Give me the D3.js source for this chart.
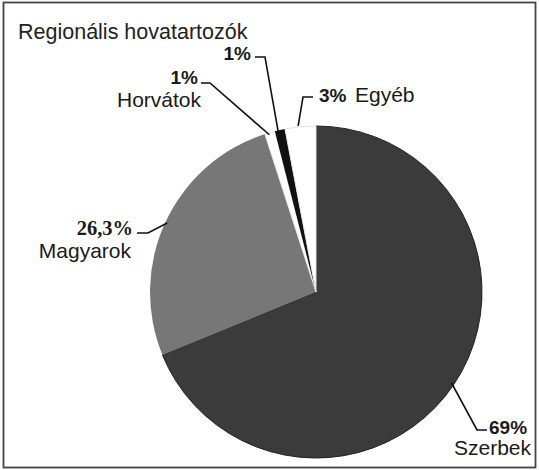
<!DOCTYPE html>
<html><head><meta charset="utf-8">
<script src="https://cdn.jsdelivr.net/npm/d3@7/dist/d3.min.js"></script>
<style>body{margin:0;background:#fff}svg{display:block}</style>
</head><body>
<svg id="c" width="539" height="470"></svg>
<script>
const title = "Regionális hovatartozók";
const categories = ["Szerbek", "Magyarok", "Horvátok", "", "Egyéb"];
const values = [69, 26.3, 1, 1, 3];
const valueLabels = ["69%", "26,3%", "1%", "1%", "3%"];
const colors = ["#3b3b3b", "#777777", "#ffffff", "#111111", "#ffffff"];

const svg = d3.select("#c");
svg.append("rect").attr("x", 3.5).attr("y", 2.5).attr("width", 532).attr("height", 465)
  .attr("fill", "#fff").attr("stroke", "#444").attr("stroke-width", 1.8);

const sans = "Liberation Sans, Arial, sans-serif";
svg.append("text").attr("x", 18).attr("y", 39).text(title)
  .attr("font-family", sans).attr("font-size", 21.5).attr("fill", "#222");

const cx = 316, cy = 292, R = 166;
const data = categories.map((c, i) => ({cat: c, value: values[i], label: valueLabels[i], color: colors[i]}));
const pie = d3.pie().value(d => d.value).sort(null);
const arcs = pie(data);
const arc = d3.arc().innerRadius(0).outerRadius(R);
const g = svg.append("g").attr("transform", `translate(${cx},${cy})`);
g.selectAll("path").data(arcs).join("path")
  .attr("d", arc).attr("fill", d => d.data.color)
  .attr("stroke", (d, i) => i === 0 ? "#222" : (d.data.color === "#ffffff" ? "#e4e4e4" : "none"))
  .attr("stroke-width", 1);

function rim(i, frac, r) {
  const a = arcs[i];
  const ang = a.startAngle + (a.endAngle - a.startAngle) * frac;
  return [cx + r * Math.sin(ang), cy - r * Math.cos(ang)];
}
const line = d3.line();
function leader(pts) {
  svg.append("path").attr("d", line(pts)).attr("fill", "none").attr("stroke", "#111").attr("stroke-width", 1.6);
}
function txt(x, y, s, opts = {}) {
  svg.append("text").attr("x", x).attr("y", y).text(s)
    .attr("font-family", opts.family || sans).attr("font-size", opts.size || 21)
    .attr("font-weight", opts.weight || "normal").attr("text-anchor", opts.anchor || "start")
    .attr("fill", "#1a1a1a");
}
const bold = {weight: "bold", size: 19};

// Szerbek
{
  const p = rim(0, 0.5, R - 3);
  leader([p, [477, 430], [487, 430]]);
  txt(489, 434, valueLabels[0], bold);
  txt(531, 455, categories[0], {anchor: "end"});
}
// Magyarok
{
  const p = rim(1, 0.5, R - 2);
  leader([p, [148, 233], [137, 233]]);
  txt(133, 235, valueLabels[1], {weight: "bold", family: "Liberation Serif, Times New Roman, serif", size: 20.5, anchor: "end"});
  txt(131, 258, categories[1], {anchor: "end"});
}
// Horvátok
{
  const p = rim(2, 0.4, R - 2);
  leader([p, [210, 83], [201, 83]]);
  txt(198, 84, valueLabels[2], {...bold, anchor: "end"});
  txt(201, 107, categories[2], {anchor: "end"});
}
// unnamed 1%
{
  const p = rim(3, 0.3, R - 2);
  leader([p, [265, 57], [255, 57]]);
  txt(251, 60, valueLabels[3], {...bold, anchor: "end"});
}
// Egyéb
{
  const p = rim(4, 0.43, R + 1);
  leader([p, [303, 97], [313, 97]]);
  txt(319, 102, valueLabels[4], bold);
  txt(355, 102, categories[4]);
}
</script>
</body></html>
